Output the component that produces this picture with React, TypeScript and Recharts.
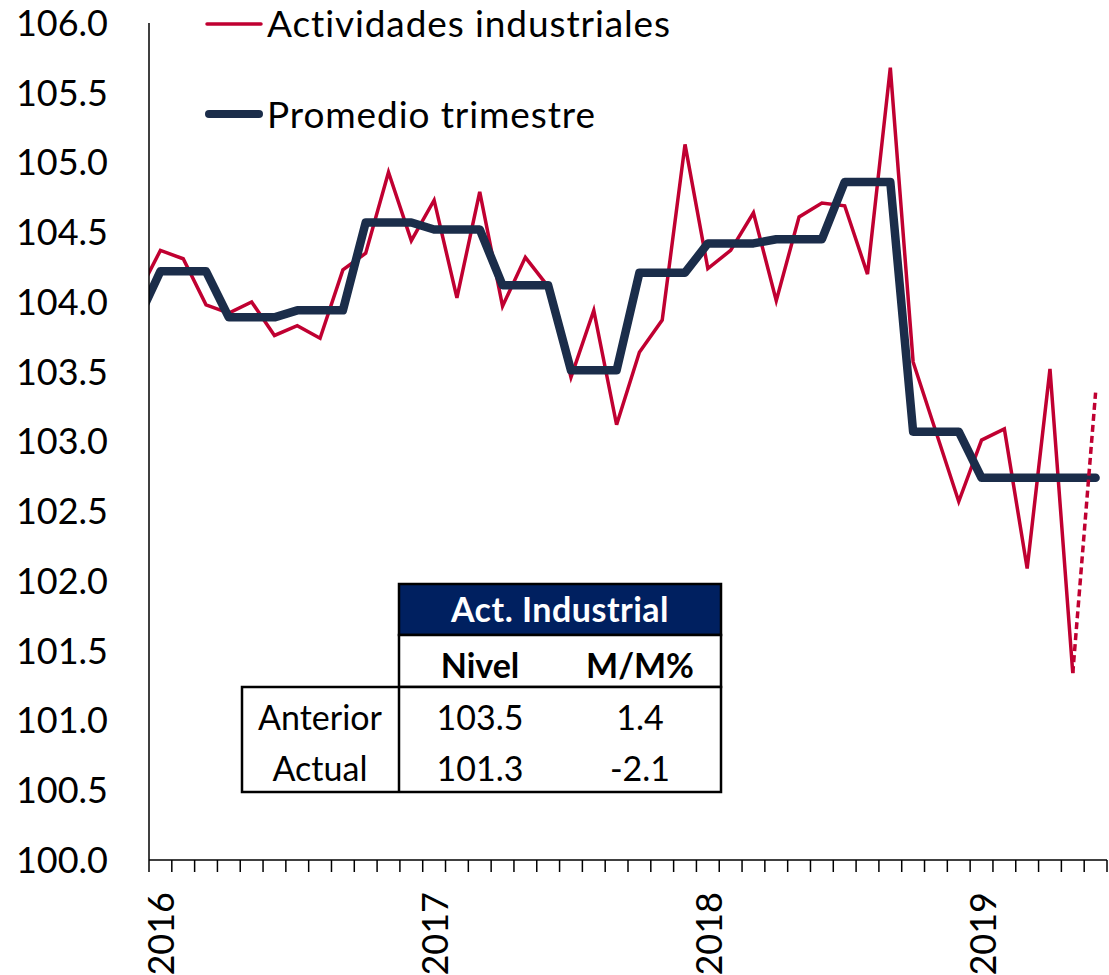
import { LineChart, Line, XAxis, YAxis } from "recharts";

// meses (incluye dic-2015, que queda recortado a la izquierda del eje)
const meses = [
  "2015-12",
  "2016-01", "2016-02", "2016-03", "2016-04", "2016-05", "2016-06",
  "2016-07", "2016-08", "2016-09", "2016-10", "2016-11", "2016-12",
  "2017-01", "2017-02", "2017-03", "2017-04", "2017-05", "2017-06",
  "2017-07", "2017-08", "2017-09", "2017-10", "2017-11", "2017-12",
  "2018-01", "2018-02", "2018-03", "2018-04", "2018-05", "2018-06",
  "2018-07", "2018-08", "2018-09", "2018-10", "2018-11", "2018-12",
  "2019-01", "2019-02", "2019-03", "2019-04", "2019-05", "2019-06",
];

// Actividades industriales (índice)
const actividad = [
  104.05,
  104.37, 104.31, 103.98, 103.92, 104.0, 103.76,
  103.83, 103.74, 104.23, 104.35, 104.93, 104.44,
  104.73, 104.03, 104.79, 103.97, 104.32, 104.11,
  103.46, 103.94, 103.12, 103.64, 103.87, 105.13,
  104.24, 104.37, 104.64, 104.01, 104.61, 104.71,
  104.69, 104.2, 105.68, 103.57, 103.07, 102.57,
  103.01, 103.09, 102.09, 103.52, 101.34, null,
];

// tramo punteado final
const proyeccion = [
  null,
  null, null, null, null, null, null,
  null, null, null, null, null, null,
  null, null, null, null, null, null,
  null, null, null, null, null, null,
  null, null, null, null, null, null,
  null, null, null, null, null, null,
  null, null, null, null, 101.34, 103.35,
];

// Promedio trimestre
const promedio = [
  103.87,
  104.22, 104.22, 104.22, 103.89, 103.89, 103.89,
  103.94, 103.94, 103.94, 104.57, 104.57, 104.57,
  104.52, 104.52, 104.52, 104.12, 104.12, 104.12,
  103.51, 103.51, 103.51, 104.21, 104.21, 104.21,
  104.42, 104.42, 104.42, 104.45, 104.45, 104.45,
  104.86, 104.86, 104.86, 103.07, 103.07, 103.07,
  102.74, 102.74, 102.74, 102.74, 102.74, 102.74,
];

const anios = ["2016", "2017", "2018", "2019"];
const yTicks = [100, 100.5, 101, 101.5, 102, 102.5, 103, 103.5, 104, 104.5, 105, 105.5, 106];

// tabla
const tablaTitulo = "Act. Industrial";
const tablaColumnas = ["Nivel", "M/M%"];
const tablaFilas = ["Anterior", "Actual"];
const tablaNivel = [103.5, 101.3];
const tablaMM = [1.4, -2.1];

const ROJO = "#C00031";
const AZUL = "#1B2D4A";
const FONT = "Lato, 'Open Sans', sans-serif";

const data = meses.map((mes, i) => ({
  mes,
  m: i - 1,
  act: actividad[i],
  proy: proyeccion[i],
  prom: promedio[i],
}));

const lastM = data[data.length - 1].m;
const bordes = data.slice(1).map((d) => d.m - 0.5).concat(lastM + 0.5);
const yearTicks = anios.map((a) => meses.indexOf(`${a}-01`) - 1);
const xTicks = [...bordes, ...yearTicks].sort((a, b) => a - b);

function XTick(props: any) {
  const { x, y, payload } = props;
  const k = yearTicks.indexOf(payload.value);
  if (k >= 0) {
    return (
      <text
        transform={`translate(${x},${y + 32}) rotate(-90)`}
        textAnchor="end"
        dominantBaseline="central"
        fontSize={36}
        fontFamily={FONT}
        fill="#000"
      >
        {anios[k]}
      </text>
    );
  }
  return <line x1={x} y1={y} x2={x} y2={y + 12} stroke="#000" strokeWidth={1.5} />;
}

function Overlay() {
  const colX = [480, 640];
  const filaY = [730, 781];
  return (
    <svg
      width={1109}
      height={975}
      style={{ position: "absolute", top: 0, left: 0, pointerEvents: "none" }}
      fontFamily={FONT}
    >
      {/* leyenda */}
      <line x1={207} y1={24} x2={261} y2={24} stroke={ROJO} strokeWidth={3.5} strokeLinecap="round" />
      <text x={267} y={37} fontSize={37} letterSpacing={0.9} fill="#000">
        Actividades industriales
      </text>
      <line x1={209} y1={114} x2={259} y2={114} stroke={AZUL} strokeWidth={8} strokeLinecap="round" />
      <text x={267} y={128} fontSize={37} letterSpacing={0.9} fill="#000">
        Promedio trimestre
      </text>

      {/* tabla */}
      <rect x={399} y={584} width={322} height={51} fill="#002060" stroke="#000" strokeWidth={2.5} />
      <text x={560} y={622} fontSize={34} fontWeight="bold" letterSpacing={0.5} fill="#fff" textAnchor="middle">
        {tablaTitulo}
      </text>
      <rect x={399} y={635} width={322} height={52} fill="#fff" stroke="#000" strokeWidth={2.5} />
      {tablaColumnas.map((c, i) => (
        <text key={c} x={colX[i]} y={678} fontSize={34} fontWeight="bold" fill="#000" textAnchor="middle">
          {c}
        </text>
      ))}
      <rect x={242} y={687} width={479} height={105} fill="#fff" stroke="#000" strokeWidth={2.5} />
      <line x1={399} y1={687} x2={399} y2={792} stroke="#000" strokeWidth={2.5} />
      {tablaFilas.map((f, i) => (
        <g key={f}>
          <text x={320} y={filaY[i]} fontSize={34} fill="#000" textAnchor="middle">
            {f}
          </text>
          <text x={colX[0]} y={filaY[i]} fontSize={34} fill="#000" textAnchor="middle">
            {tablaNivel[i].toFixed(1)}
          </text>
          <text x={colX[1]} y={filaY[i]} fontSize={34} fill="#000" textAnchor="middle">
            {tablaMM[i].toFixed(1)}
          </text>
        </g>
      ))}
    </svg>
  );
}

export default function App() {
  return (
    <div
      style={{
        position: "absolute",
        top: 0,
        left: 0,
        width: 1109,
        height: 975,
        background: "#fff",
        fontFamily: FONT,
      }}
    >
      <LineChart
        width={1109}
        height={975}
        data={data}
        margin={{ top: 23, right: 2, left: 0, bottom: 0 }}
      >
        <XAxis
          type="number"
          dataKey="m"
          domain={[-0.5, lastM + 0.5]}
          allowDataOverflow
          ticks={xTicks}
          interval={0}
          tick={<XTick />}
          tickLine={false}
          tickSize={0}
          tickMargin={0}
          height={115}
          axisLine={{ stroke: "#000", strokeWidth: 1.5 }}
        />
        <YAxis
          type="number"
          domain={[100, 106]}
          ticks={yTicks}
          interval={0}
          tickFormatter={(v: number) => v.toFixed(1)}
          tickLine={false}
          tickSize={0}
          tickMargin={41}
          width={149}
          axisLine={{ stroke: "#000", strokeWidth: 1.5 }}
          tick={{ fontSize: 36, fill: "#000", fontFamily: FONT }}
        />
        <Line
          type="linear"
          dataKey="act"
          stroke={ROJO}
          strokeWidth={3.5}
          dot={false}
          activeDot={false}
          isAnimationActive={false}
        />
        <Line
          type="linear"
          dataKey="prom"
          stroke={AZUL}
          strokeWidth={8.5}
          strokeLinejoin="round"
          strokeLinecap="round"
          dot={false}
          activeDot={false}
          isAnimationActive={false}
        />
        <Line
          type="linear"
          dataKey="proy"
          stroke={ROJO}
          strokeWidth={3.5}
          strokeDasharray="7 4"
          dot={false}
          activeDot={false}
          isAnimationActive={false}
        />
      </LineChart>
      <Overlay />
    </div>
  );
}
